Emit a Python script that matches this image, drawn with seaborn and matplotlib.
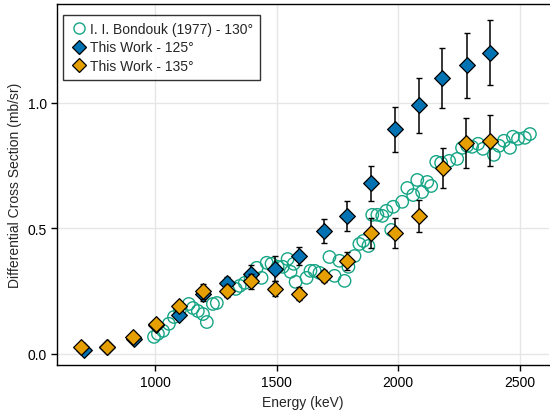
import matplotlib
matplotlib.use("Agg")
import matplotlib.pyplot as plt
import seaborn as sns
import pandas as pd
from matplotlib.lines import Line2D

# Bondouk (1977) - 130 deg
bond_energy = [996, 1012, 1033, 1057, 1078, 1102, 1139, 1156, 1176, 1197, 1213, 1238, 1254,
               1332, 1348, 1369, 1393, 1418, 1438, 1459, 1479, 1504, 1525, 1545, 1557, 1570,
               1578, 1623, 1639, 1656, 1676, 1717, 1738, 1758, 1779, 1795, 1820, 1840, 1856,
               1877, 1893, 1914, 1934, 1951, 1971, 1979, 2016, 2037, 2061, 2078, 2098, 2119,
               2135, 2156, 2176, 2209, 2242, 2262, 2283, 2303, 2328, 2348, 2393, 2414, 2434,
               2459, 2471, 2492, 2520, 2541]
bond_xs = [0.068, 0.080, 0.092, 0.120, 0.147, 0.175, 0.199, 0.183, 0.171, 0.159, 0.127, 0.199, 0.203,
           0.259, 0.271, 0.283, 0.299, 0.343, 0.303, 0.363, 0.359, 0.347, 0.347, 0.378, 0.327, 0.359,
           0.287, 0.303, 0.331, 0.331, 0.323, 0.386, 0.311, 0.371, 0.291, 0.347, 0.390, 0.438, 0.450,
           0.430, 0.554, 0.554, 0.550, 0.570, 0.494, 0.586, 0.606, 0.661, 0.633, 0.693, 0.645, 0.685,
           0.669, 0.765, 0.761, 0.769, 0.777, 0.821, 0.829, 0.825, 0.837, 0.817, 0.793, 0.829, 0.849,
           0.821, 0.865, 0.857, 0.861, 0.876]

# This work - 125 deg
w125_energy = [709, 803, 914, 1004, 1098, 1197, 1295, 1393, 1492, 1593, 1693, 1791, 1889, 1988,
               2086, 2180, 2283, 2377]
w125_xs = [0.016, 0.028, 0.060, 0.115, 0.155, 0.240, 0.283, 0.320, 0.340, 0.390, 0.490, 0.550,
           0.680, 0.895, 0.990, 1.100, 1.150, 1.200]
w125_err = [0.0, 0.0, 0.0, 0.0, 0.01, 0.03, 0.025, 0.035, 0.05, 0.036, 0.048, 0.06,
            0.07, 0.09, 0.11, 0.12, 0.13, 0.13]

# This work - 135 deg
w135_energy = [697, 803, 910, 1004, 1098, 1197, 1295, 1393, 1492, 1590, 1693, 1791, 1889, 1988,
               2086, 2184, 2279, 2377]
w135_xs = [0.028, 0.028, 0.068, 0.120, 0.190, 0.250, 0.250, 0.290, 0.260, 0.240, 0.310, 0.370,
           0.480, 0.480, 0.550, 0.740, 0.840, 0.850]
w135_err = [0.0, 0.0, 0.0, 0.012, 0.015, 0.03, 0.025, 0.03, 0.03, 0.025, 0.025, 0.035,
            0.06, 0.06, 0.065, 0.08, 0.1, 0.1]

labels = ["I. I. Bondouk (1977) - 130°", "This Work - 125°", "This Work - 135°"]
c_green = "#16a585"
c_blue = "#0173b2"
c_orange = "#e69f00"

sns.set_style("white")
plt.rcParams['font.family'] = ['Liberation Sans', 'DejaVu Sans']

fig = plt.figure(figsize=(5.5, 4.14), dpi=100)
ax = fig.add_axes([0.104, 0.116, 0.894, 0.872])

bond = pd.DataFrame({"E": bond_energy, "xs": bond_xs})
d125 = pd.DataFrame({"E": w125_energy, "xs": w125_xs, "err": w125_err})
d135 = pd.DataFrame({"E": w135_energy, "xs": w135_xs, "err": w135_err})

sns.scatterplot(data=bond, x="E", y="xs", ax=ax, marker="o", s=80,
                facecolor="none", edgecolor=c_green, linewidth=1.0, zorder=2, legend=False)

ax.errorbar(d125["E"], d125["xs"], yerr=d125["err"], fmt="none", ecolor="black",
            elinewidth=1.1, capsize=2.5, capthick=1.0, zorder=3)
sns.scatterplot(data=d125, x="E", y="xs", ax=ax, marker="D", s=64, color=c_blue,
                edgecolor="black", linewidth=0.9, zorder=4, legend=False)
ax.errorbar(d135["E"], d135["xs"], yerr=d135["err"], fmt="none", ecolor="black",
            elinewidth=1.1, capsize=2.5, capthick=1.0, zorder=5)
sns.scatterplot(data=d135, x="E", y="xs", ax=ax, marker="D", s=64, color=c_orange,
                edgecolor="black", linewidth=0.9, zorder=6, legend=False)

ax.set_xlim(598, 2619)
ax.set_ylim(-0.044, 1.394)
ax.set_xticks([1000, 1500, 2000, 2500])
ax.set_yticks([0.0, 0.5, 1.0])
ax.set_yticklabels(["0.0", "0.5", "1.0"])
ax.grid(True, color="#e6e6e6", linewidth=1.0)
ax.set_axisbelow(True)
for s in ["left", "bottom", "top"]:
    ax.spines[s].set_color("black")
    ax.spines[s].set_linewidth(1.0)
ax.spines["right"].set_visible(False)
ax.tick_params(axis="both", direction="out", length=4, width=1, color="black",
               labelsize=10, labelcolor="black", bottom=True, left=True)
ax.set_xlabel("Energy (keV)", fontsize=10)
ax.set_ylabel("Differential Cross Section (mb/sr)", fontsize=10)

handles = [
    Line2D([], [], linestyle="none", marker="o", markersize=8, markerfacecolor="none",
           markeredgecolor=c_green, markeredgewidth=1.0),
    Line2D([], [], linestyle="none", marker="D", markersize=7, markerfacecolor=c_blue,
           markeredgecolor="black", markeredgewidth=0.9),
    Line2D([], [], linestyle="none", marker="D", markersize=7, markerfacecolor=c_orange,
           markeredgecolor="black", markeredgewidth=0.9),
]
leg = ax.legend(handles, labels, loc="upper left", bbox_to_anchor=(0.004, 0.982),
                frameon=True, fancybox=False, edgecolor="black", fontsize=10,
                handletextpad=0.15, handlelength=1.2, borderpad=0.55, labelspacing=0.3,
                borderaxespad=0.3)
leg.get_frame().set_linewidth(1.0)

fig.savefig("out.png", dpi=100)
